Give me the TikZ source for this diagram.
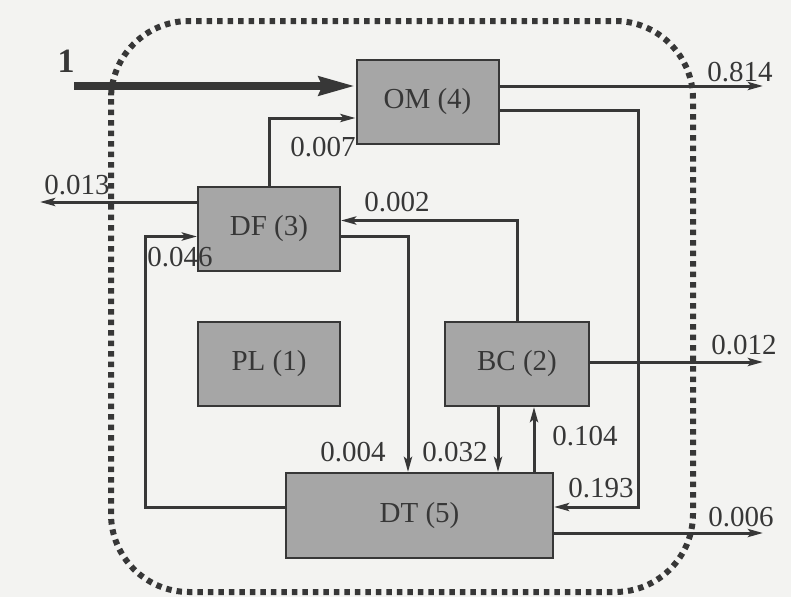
\documentclass[tikz,border=0pt]{standalone}
\usepackage{fontspec}
\setmainfont{Liberation Serif}
\usetikzlibrary{arrows.meta}

\definecolor{paper}{RGB}{243,243,241}
\definecolor{ink}{RGB}{55,55,55}
\definecolor{boxgray}{RGB}{166,166,166}

\begin{document}
\begin{tikzpicture}[x=1pt, y=-1pt, >={Stealth[length=15pt,width=8pt,inset=3pt]},
    box/.style={draw=ink, line width=2pt, fill=boxgray, minimum width=142pt,
        minimum height=84pt, inner sep=0pt, text=ink, font=\fontsize{29}{34}\selectfont},
    flow/.style={->, draw=ink, line width=3pt},
    lbl/.style={text=ink, inner sep=0pt, font=\fontsize{29}{34}\selectfont}]

    \fill[paper] (0,0) rectangle (791,597);
    \useasboundingbox (0,0) rectangle (791,597);

    % system boundary
    \draw[ink, line width=6pt, dash pattern=on 5.5pt off 5pt, rounded corners=78pt]
        (111,21) rectangle (693,592);

    \node[box] (om) at (427.5,102) {OM (4)};
    \node[box] (df) at (269,228.5) {DF (3)};
    \node[box] (pl) at (269,364) {PL (1)};
    \node[box, minimum width=144pt] (bc) at (517,364) {BC (2)};
    \node[box, minimum width=267pt, minimum height=85pt] (dt) at (419.5,515.5) {DT (5)};

    \coordinate (in) at (74,86);
    \coordinate (o814) at (763,86);
    \coordinate (o13) at (40,202);
    \coordinate (o12) at (763,362);
    \coordinate (o6) at (763,533);
    \coordinate (k193) at (638,507);
    \coordinate (k46) at (145,507);

    % input
    \draw[->, draw=ink, line width=8pt, >={Stealth[length=36pt,width=18pt,inset=3pt]}]
        (in) -- (in -| om.west);
    \node[lbl, font=\fontsize{34}{40}\selectfont\bfseries] (lone) at (66,61) {1};

    % flows between boxes
    \draw[flow] (o814 -| om.east) -- (o814);
    \draw[flow] ([yshift=-8pt]om.east) -| (k193) -- (k193 -| dt.east);
    \draw[flow] (df.north) |- ([yshift=-16pt]om.west);
    \draw[flow] (o13 -| df.west) -- (o13);
    \draw[flow] (k46 -| dt.west) -- (k46) |- ([yshift=-8pt]df.west);
    \draw[flow] (bc.north) |- ([yshift=8pt]df.east);
    \draw[flow] ([yshift=-8pt]df.east) -| ([xshift=-11.5pt]dt.north);
    \draw[flow] ([xshift=-19pt]bc.south) -- ([xshift=-19pt]bc.south |- dt.north);
    \draw[flow] ([xshift=17pt]bc.south |- dt.north) -- ([xshift=17pt]bc.south);
    \draw[flow] (o12 -| bc.east) -- (o12);
    \draw[flow] (o6 -| dt.east) -- (o6);

    % flow values
    \node[lbl] (l814) at (740,72) {0.814};
    \node[lbl] (l007) at (323,147) {0.007};
    \node[lbl] (l013) at (77,185) {0.013};
    \node[lbl] (l046) at (180,257) {0.046};
    \node[lbl] (l002) at (397,202) {0.002};
    \node[lbl] (l004) at (353,452) {0.004};
    \node[lbl] (l032) at (455,452) {0.032};
    \node[lbl] (l104) at (585,436) {0.104};
    \node[lbl] (l193) at (601,488) {0.193};
    \node[lbl] (l012) at (744,345) {0.012};
    \node[lbl] (l006) at (741,517) {0.006};

\end{tikzpicture}
\end{document}
